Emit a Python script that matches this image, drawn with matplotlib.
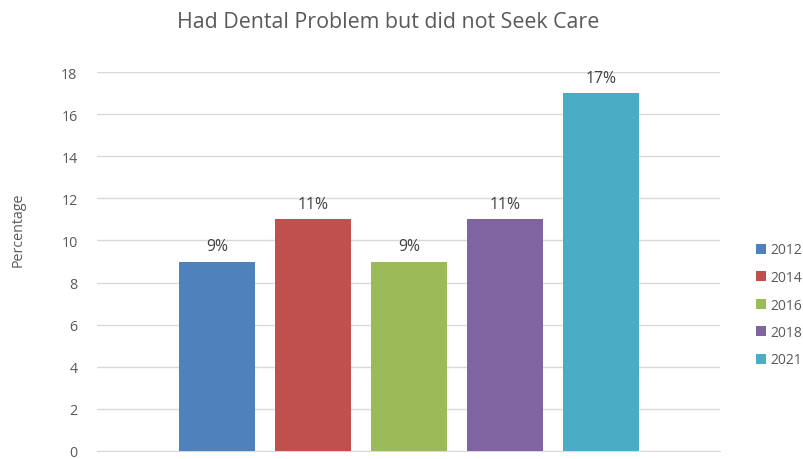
import matplotlib
matplotlib.use("Agg")
import matplotlib.pyplot as plt
from matplotlib.patches import Patch

years = ["2012", "2014", "2016", "2018", "2021"]
values = [9, 11, 9, 11, 17]
labels = ["9%", "11%", "9%", "11%", "17%"]
colors = ["#4F81BD", "#C0504D", "#9BBB59", "#8064A2", "#4BACC6"]

plt.rcParams['font.family'] = ['Open Sans', 'DejaVu Sans']

fig = plt.figure(figsize=(8.04, 4.60), dpi=100)
ax = fig.add_axes([97/804, 8/460, (720-97)/804, (452-73)/460])

x = list(range(len(years)))
bars = ax.bar(x, values, width=0.79, color=colors, zorder=3)
for b, lab in zip(bars, labels):
    ax.text(b.get_x() + b.get_width()/2, b.get_height() + 0.35, lab,
            ha='center', va='bottom', fontsize=11.3, color='#404040')

ax.set_xlim(-1.25, 5.24)
ax.set_ylim(0, 18)
ax.set_yticks(range(0, 19, 2))
ax.set_xticks([])
ax.tick_params(axis='y', length=0, labelsize=10.3, labelcolor='#595959', pad=14)
ax.grid(axis='y', color='#D9D9D9', linewidth=1, zorder=0)
for s in ['top', 'right', 'left']:
    ax.spines[s].set_visible(False)
ax.spines['bottom'].set_color('#D9D9D9')

fig.text(18/804, 1 - 230/460, "Percentage", rotation=90, ha='center', va='center',
         fontsize=10.3, color='#595959')
fig.text(388/804, 1 - 22/460, "Had Dental Problem but did not Seek Care",
         ha='center', va='center', fontsize=15.4, color='#595959')

handles = [Patch(facecolor=c, edgecolor='none') for c in colors]
leg = fig.legend(handles, years, loc='center left', bbox_to_anchor=(756/804, 1 - 306/460),
                 frameon=False, fontsize=10, handlelength=0.7, handleheight=0.7,
                 handletextpad=0.3, labelspacing=0.9, borderpad=0, borderaxespad=0)
for t in leg.get_texts():
    t.set_color('#595959')

fig.savefig("out.png", dpi=100, facecolor='white')
